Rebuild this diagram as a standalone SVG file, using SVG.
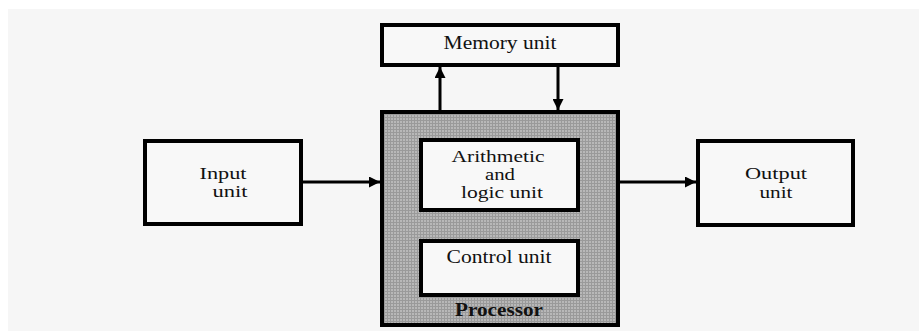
<svg xmlns="http://www.w3.org/2000/svg" width="919" height="331" viewBox="0 0 919 331">
  <defs>
    <style>
      .box { fill: #f8f8f8; stroke: #000; stroke-width: 4; }
      .proc { fill: url(#grid); stroke: #000; stroke-width: 4; }
      .t { font-family: "Liberation Serif", "Times New Roman", serif; font-size: 18px; fill: #111; text-anchor: middle; }
      .s { font-size: 16px; }
      .b { font-weight: bold; }
      .conn { stroke: #000; stroke-width: 3; fill: none; }
    </style>
    <pattern id="grid" width="3" height="3" patternUnits="userSpaceOnUse">
      <rect width="3" height="3" fill="#b8b8b8"/>
      <path d="M0 0.5H3M0.5 0V3" stroke="#9a9a9a" stroke-width="1"/>
    </pattern>
    <marker id="ah" viewBox="0 0 12 12" refX="12" refY="6" markerWidth="12" markerHeight="11" markerUnits="userSpaceOnUse" orient="auto">
      <path d="M0 0L12 6L0 12z" fill="#000"/>
    </marker>
  </defs>
  <rect width="919" height="331" fill="#ffffff"/>
  <rect x="8" y="9" width="911" height="322" fill="#f6f6f6"/>

  <g id="connectors">
    <line class="conn" x1="303" y1="182" x2="380" y2="182" marker-end="url(#ah)"/>
    <line class="conn" x1="620" y1="182" x2="696" y2="182" marker-end="url(#ah)"/>
    <line class="conn" x1="440" y1="110" x2="440" y2="67" marker-end="url(#ah)"/>
    <line class="conn" x1="558" y1="67" x2="558" y2="110" marker-end="url(#ah)"/>
  </g>

  <g id="memory">
    <rect class="box" x="382" y="25" width="236" height="40"/>
    <text class="t" x="500" y="49" textLength="113" lengthAdjust="spacingAndGlyphs">Memory unit</text>
  </g>

  <g id="processor">
    <rect class="proc" x="382" y="112" width="236" height="213"/>
    <text class="t b" x="499" y="316" textLength="88" lengthAdjust="spacingAndGlyphs">Processor</text>
  </g>

  <g id="alu">
    <rect class="box" x="421" y="140" width="157" height="70"/>
    <text class="t s" x="498" y="162" textLength="93" lengthAdjust="spacingAndGlyphs">Arithmetic</text>
    <text class="t s" x="500" y="180" textLength="30" lengthAdjust="spacingAndGlyphs">and</text>
    <text class="t s" x="502" y="198" textLength="82" lengthAdjust="spacingAndGlyphs">logic unit</text>
  </g>

  <g id="control">
    <rect class="box" x="421" y="241" width="157" height="54"/>
    <text class="t" x="499" y="263" textLength="105" lengthAdjust="spacingAndGlyphs">Control unit</text>
  </g>

  <g id="input">
    <rect class="box" x="145" y="141" width="156" height="83"/>
    <text class="t s" x="223" y="179" textLength="47" lengthAdjust="spacingAndGlyphs">Input</text>
    <text class="t s" x="230" y="197" textLength="35" lengthAdjust="spacingAndGlyphs">unit</text>
  </g>

  <g id="output">
    <rect class="box" x="698" y="141" width="155" height="84"/>
    <text class="t s" x="776" y="179" textLength="62" lengthAdjust="spacingAndGlyphs">Output</text>
    <text class="t s" x="776" y="198" textLength="33" lengthAdjust="spacingAndGlyphs">unit</text>
  </g>
</svg>
